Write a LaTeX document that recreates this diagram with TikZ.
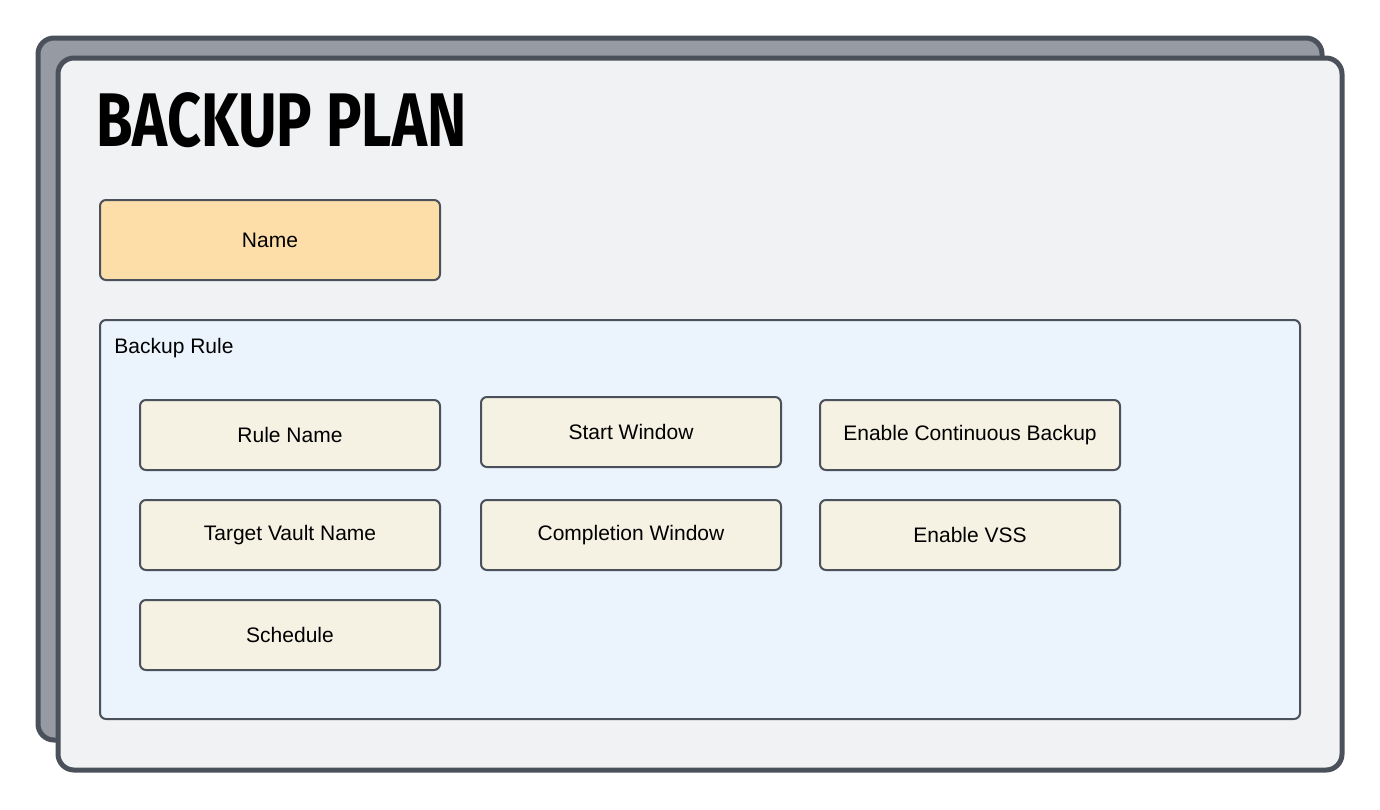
\documentclass[tikz,border=0pt]{standalone}
\usepackage{fontspec}
\setmainfont{Liberation Sans}
\newfontfamily\titlefont{Fira Sans}
\usetikzlibrary{positioning}
\definecolor{edgecol}{HTML}{4B515B}
\definecolor{backcol}{HTML}{959AA3}
\definecolor{cardcol}{HTML}{F1F2F4}
\definecolor{namecol}{HTML}{FDDEA8}
\definecolor{rulecol}{HTML}{EBF3FD}
\definecolor{fieldcol}{HTML}{F5F2E3}
\tikzset{
  field/.style={draw=edgecol, line width=1pt, fill=fieldcol, rounded corners=3pt,
    minimum width=150pt, minimum height=35pt, inner sep=0pt, font=\fontsize{10.5}{12}\selectfont},
  card/.style={draw=edgecol, line width=2.5pt, rounded corners=8pt}
}
\begin{document}
\begin{tikzpicture}[x=0.5pt, y=-0.5pt]
\useasboundingbox (0,0) rectangle (1380,809);

% Stacked cards
\draw[card, fill=backcol] (38,38) rectangle (1322,740);
\draw[card, fill=cardcol] (58,58) rectangle (1342,770);

% Title
\node[anchor=west, inner sep=0pt] (title) at (96,120)
  {\titlefont\bfseries\fontsize{38}{40}\selectfont\scalebox{0.78}[1]{BACKUP PLAN}};

% Name
\node[field, fill=namecol, minimum width=170pt, minimum height=40pt] (name) at (270,240) {Name};

% Backup rule container
\draw[draw=edgecol, line width=1pt, fill=rulecol, rounded corners=3pt] (100,320) rectangle (1300,719);
\node[anchor=west, inner sep=0pt, font=\fontsize{10.5}{12}\selectfont] (rule) at (114,348) {Backup Rule};

% Fields
\node[field] (rulename) at (290,435) {Rule Name};
\node[field] (start) at (631,432) {Start Window};
\node[field] (cont) at (970,435) {Enable Continuous Backup};
\node[field] (vault) at (290,535) {Target Vault Name};
\node[field] (compl) at (631,535) {Completion Window};
\node[field] (vss) at (970,535) {Enable VSS};
\node[field] (sched) at (290,635) {Schedule};
\end{tikzpicture}
\end{document}
